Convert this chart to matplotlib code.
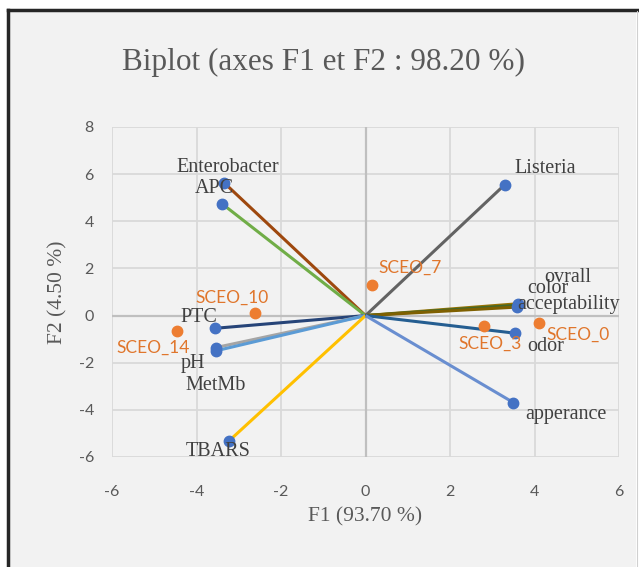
import matplotlib
matplotlib.use("Agg")
import matplotlib.pyplot as plt
from matplotlib.patches import Rectangle
from matplotlib.lines import Line2D

plt.rcParams["axes.unicode_minus"] = False

# Variable loadings (F1, F2)
var_names = ["Enterobacter", "APC", "PTC", "pH", "MetMb", "TBARS",
             "Listeria", "ovrall", "color", "acceptability", "odor", "apperance"]
var_f1 = [-3.35, -3.40, -3.56, -3.55, -3.55, -3.22, 3.30, 3.60, 3.60, 3.58, 3.55, 3.50]
var_f2 = [5.64, 4.75, -0.54, -1.36, -1.50, -5.30, 5.56, 0.50, 0.44, 0.36, -0.75, -3.69]
var_colors = ["#9E480E", "#70AD47", "#264478", "#A5A5A5", "#5B9BD5", "#FFC000",
              "#636363", "#997300", "#43682B", "#7F6000", "#255E91", "#698ED0"]
# label offsets in pixels (dx, dy)
var_offsets = [(4, 15), (-7, 15), (-16, 11), (-23, -16), (0, -35), (-11, -11),
               (40, 16), (50, 26), (30, 17), (52, 3), (30, -13), (53, -12)]

# Observation scores (F1, F2)
obs_names = ["SCEO_0", "SCEO_3", "SCEO_7", "SCEO_10", "SCEO_14"]
obs_f1 = [4.11, 2.80, 0.15, -2.62, -4.47]
obs_f2 = [-0.33, -0.43, 1.29, 0.09, -0.66]
obs_offsets = [(39, -11), (6, -18), (38, 17), (-23, 16), (-24, -17)]

W, H, DPI = 639, 567, 100
fig = plt.figure(figsize=(W / DPI, H / DPI), dpi=DPI, facecolor="white")

# chart area background and frame
fig.patches.append(Rectangle((8 / W, 0), (628 / W), (H - 10) / H,
                             transform=fig.transFigure, facecolor="#F2F2F2",
                             edgecolor="none", zorder=-10))
fig.lines.append(Line2D([7.5 / W, 7.5 / W], [0, 1 - 9.5 / H], transform=fig.transFigure,
                        color="#262626", lw=2.5, zorder=-5))
fig.lines.append(Line2D([7.5 / W, 1], [1 - 9.5 / H, 1 - 9.5 / H], transform=fig.transFigure,
                        color="#262626", lw=2.5, zorder=-5))
fig.lines.append(Line2D([636.5 / W, 636.5 / W], [0, 1 - 10.5 / H], transform=fig.transFigure,
                        color="#D0D0D0", lw=0.8, zorder=-5))

ax = fig.add_axes([112 / W, 1 - 457 / H, (619 - 112) / W, (457 - 127) / H])
ax.set_facecolor("none")
ax.set_xlim(-6, 6)
ax.set_ylim(-6, 8)
ax.set_xticks(range(-6, 7, 2))
ax.set_yticks(range(-6, 9, 2))
ax.grid(True, color="#D9D9D9", lw=1.3)
ax.set_axisbelow(True)
for s in ax.spines.values():
    s.set_visible(False)
ax.axvline(0, color="#BFBFBF", lw=1.6, zorder=1)
ax.axhline(0, color="#BFBFBF", lw=1.6, zorder=1)
ax.tick_params(length=0, labelsize=11.5, labelcolor="#595959")
ax.tick_params(axis="x", pad=20)
ax.tick_params(axis="y", pad=13)
for lab in ax.get_xticklabels() + ax.get_yticklabels():
    lab.set_family("Lato")

serif = "Liberation Serif"
for name, x, y, c, (dx, dy) in zip(var_names, var_f1, var_f2, var_colors, var_offsets):
    ax.plot([0, x], [0, y], color=c, lw=2.2, solid_capstyle="butt", zorder=2)
for name, x, y, c, (dx, dy) in zip(var_names, var_f1, var_f2, var_colors, var_offsets):
    ax.plot(x, y, "o", color="#4472C4", ms=7.5, zorder=3)
    ax.annotate(name, (x, y), xytext=(dx, dy), textcoords="offset pixels",
                ha="center", va="center", fontsize=14.5, family=serif,
                color="#404040", zorder=4)

for name, x, y, (dx, dy) in zip(obs_names, obs_f1, obs_f2, obs_offsets):
    ax.plot(x, y, "o", color="#ED7D31", ms=7.5, zorder=3)
    ax.annotate(name, (x, y), xytext=(dx, dy), textcoords="offset pixels",
                ha="center", va="center", fontsize=12.5, family="Lato",
                color="#E0762C", zorder=4)

ax.set_xlabel("F1 (93.70 %)", fontsize=15.5, family=serif, color="#595959", labelpad=6)
ax.set_ylabel("F2 (4.50 %)", fontsize=15.5, family=serif, color="#595959", labelpad=8)

fig.text(324 / W, 1 - 62 / H, "Biplot (axes F1 et F2 : 98.20 %)", ha="center",
         va="center", fontsize=22.5, family=serif, color="#595959")

fig.savefig("out.png", dpi=DPI, facecolor="white")
